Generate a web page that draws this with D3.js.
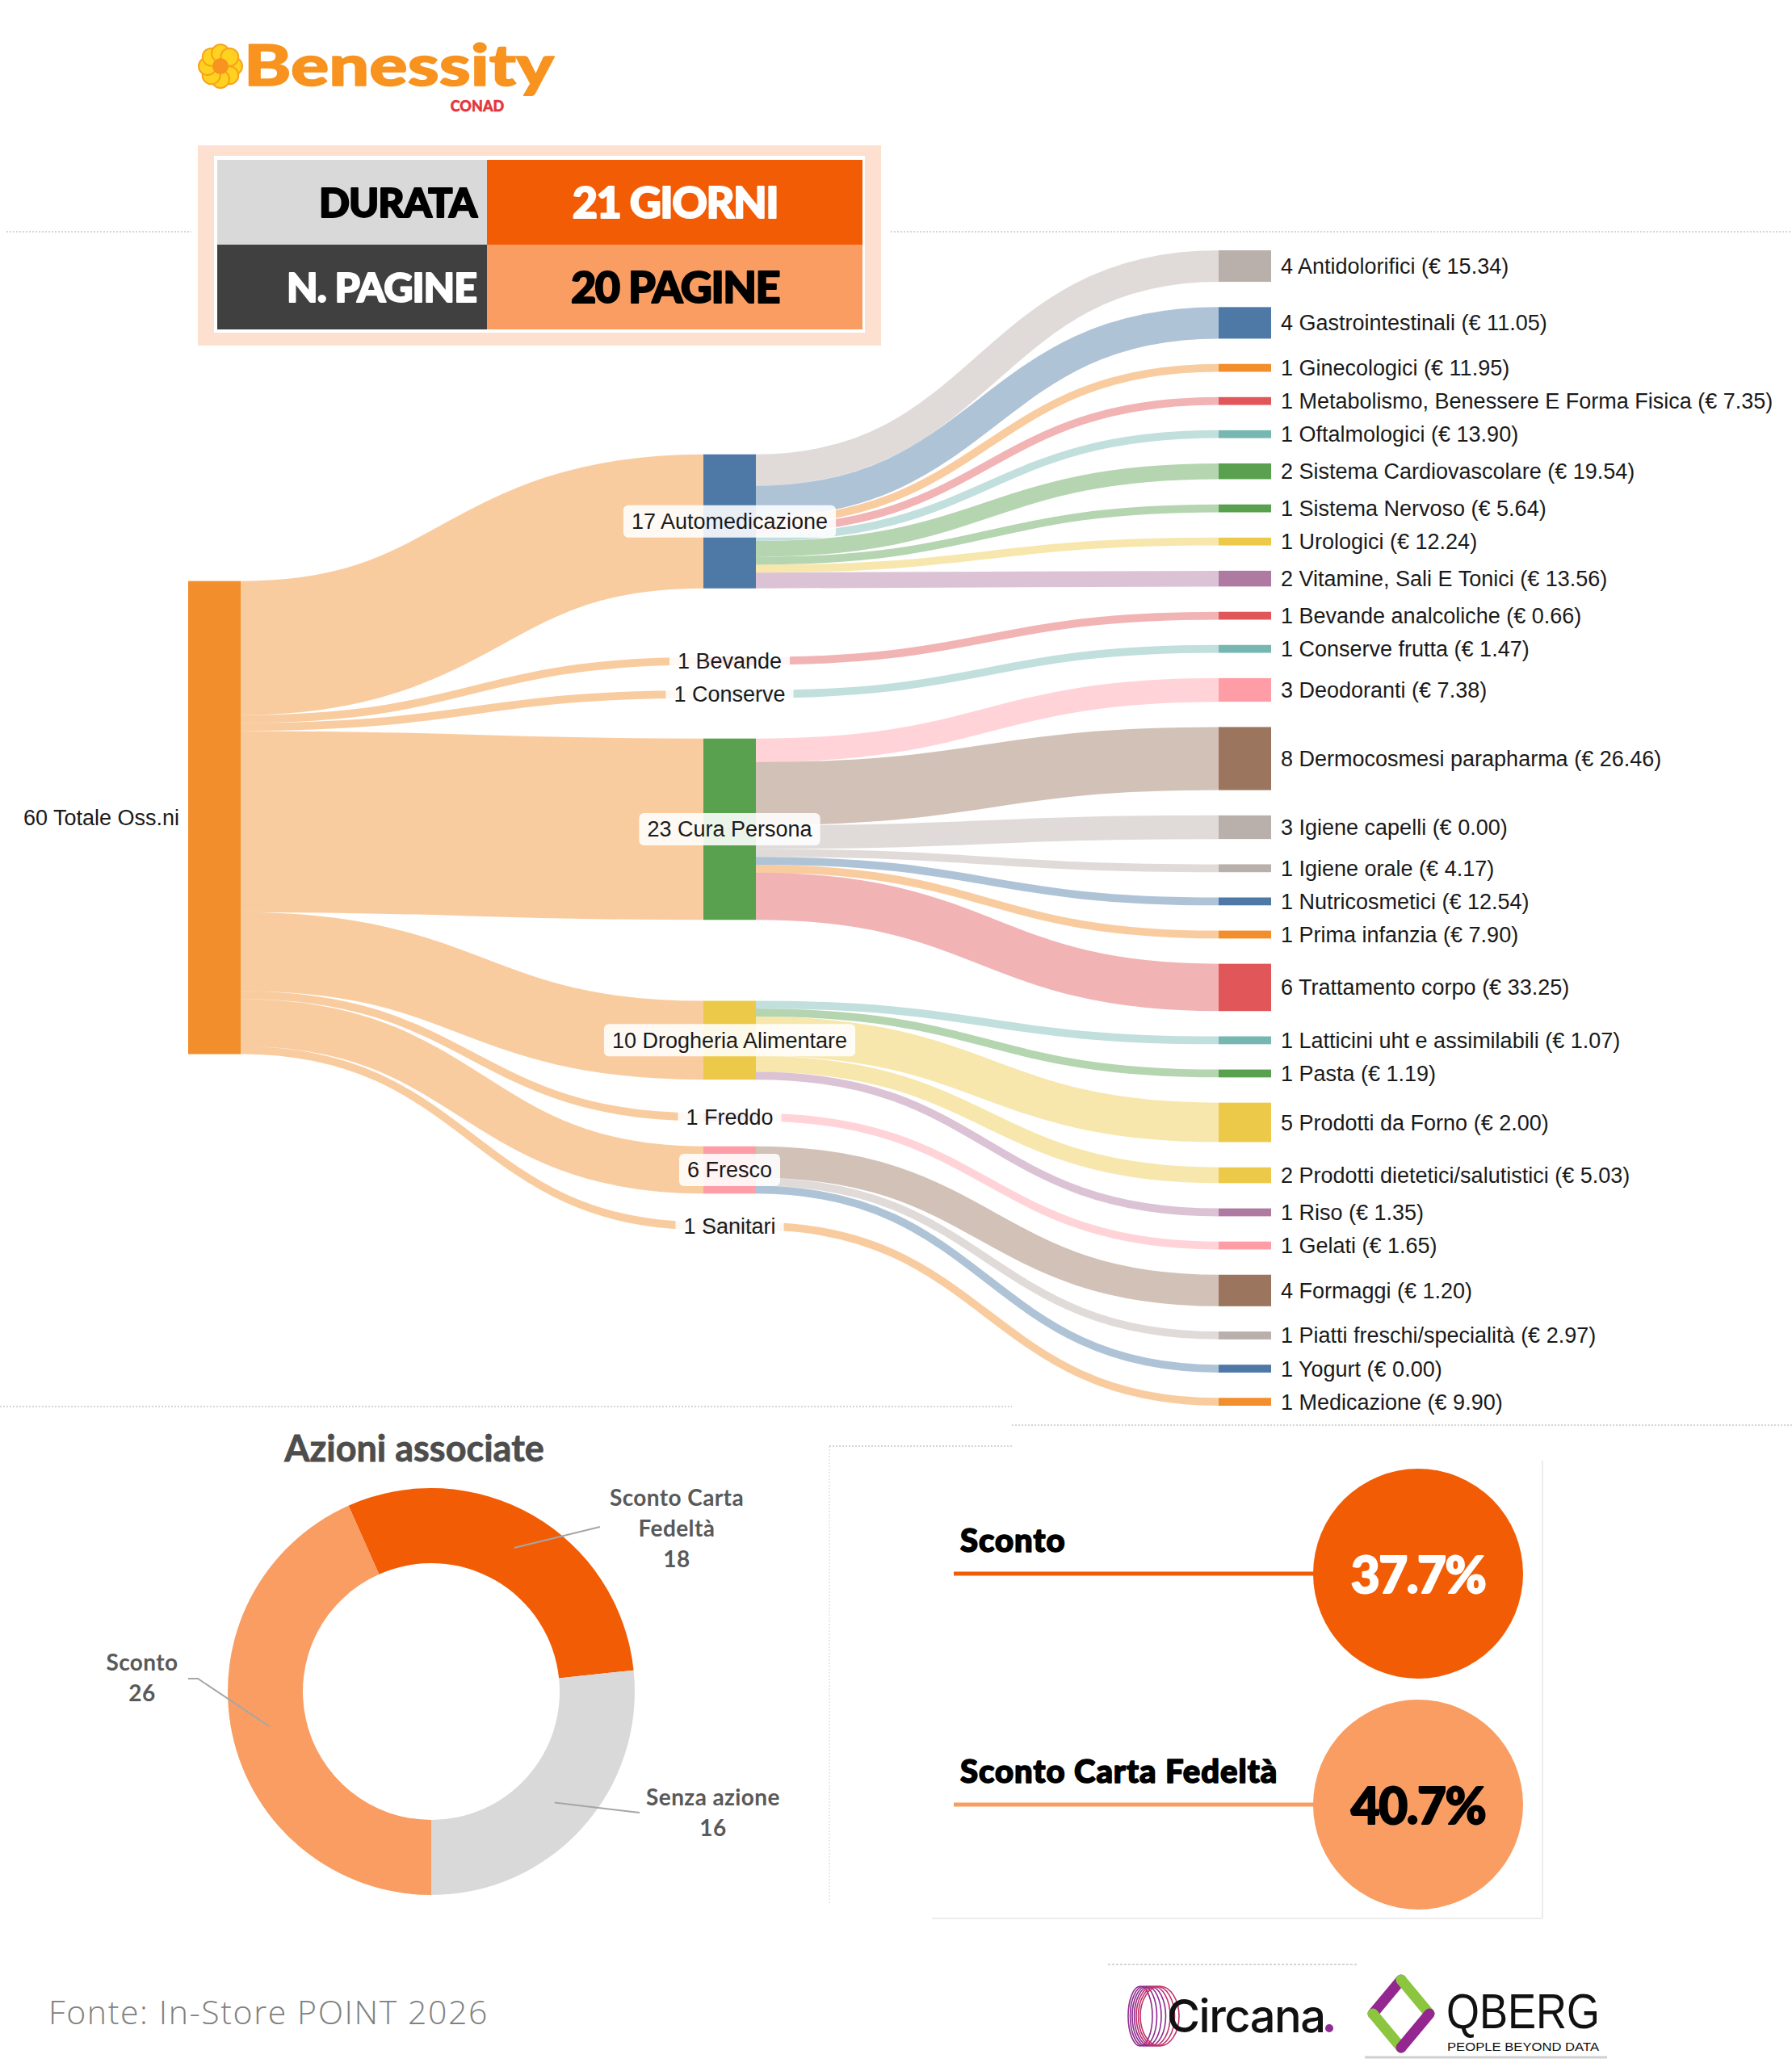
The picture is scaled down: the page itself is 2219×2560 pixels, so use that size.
<!DOCTYPE html>
<html>
<head>
<meta charset="utf-8">
<script src="https://cdn.jsdelivr.net/npm/d3@7"></script>
<style>
body { margin: 0; background: #fff; }
</style>
</head>
<body>
<div id="chart"></div>
<script>
// ---- data ----
var rootLabel = "Totale Oss.ni";
var categories = ["Automedicazione", "Bevande", "Conserve", "Cura Persona",
    "Drogheria Alimentare", "Freddo", "Fresco", "Sanitari"];
var subNames = ["Antidolorifici", "Gastrointestinali", "Ginecologici",
    "Metabolismo, Benessere E Forma Fisica", "Oftalmologici", "Sistema Cardiovascolare",
    "Sistema Nervoso", "Urologici", "Vitamine, Sali E Tonici", "Bevande analcoliche",
    "Conserve frutta", "Deodoranti", "Dermocosmesi parapharma", "Igiene capelli",
    "Igiene orale", "Nutricosmetici", "Prima infanzia", "Trattamento corpo",
    "Latticini uht e assimilabili", "Pasta", "Prodotti da Forno",
    "Prodotti dietetici/salutistici", "Riso", "Gelati", "Formaggi",
    "Piatti freschi/specialità", "Yogurt", "Medicazione"];
var subParent = [0, 0, 0, 0, 0, 0, 0, 0, 0, 1, 2, 3, 3, 3, 3, 3, 3, 3, 4, 4, 4, 4, 4, 5, 6, 6, 6, 7];
var subCounts = [4, 4, 1, 1, 1, 2, 1, 1, 2, 1, 1, 3, 8, 3, 1, 1, 1, 6, 1, 1, 5, 2, 1, 1, 4, 1, 1, 1];
var subPrices = [15.34, 11.05, 11.95, 7.35, 13.90, 19.54, 5.64, 12.24, 13.56, 0.66, 1.47, 7.38,
    26.46, 0.00, 4.17, 12.54, 7.90, 33.25, 1.07, 1.19, 2.00, 5.03, 1.35, 1.65, 1.20, 2.97, 0.00, 9.90];

var tableLabels = ["DURATA", "N. PAGINE"];
var tableValues = ["21 GIORNI", "20 PAGINE"];

var actionNames = ["Sconto Carta Fedeltà", "Senza azione", "Sconto"];
var actionCounts = [18, 16, 26];

var discountNames = ["Sconto", "Sconto Carta Fedeltà"];
var discountPct = [37.7, 40.7];

var sourceNote = "Fonte: In-Store POINT 2026";

// ---- setup ----
var W = 2219, H = 2560;
var sans = "'Liberation Sans', Arial, sans-serif";
var heavy = "Lato, 'Noto Sans', sans-serif";
var dark = "#f25c05", light = "#f99d63";

var svg = d3.select("#chart").append("svg")
    .attr("width", W)
    .attr("height", H);

function firstWord(s) { return s.split(/[ ,]/)[0]; }
var colorKeys = [categories[0], rootLabel].concat(categories.slice(1), subNames).map(firstWord);
var color = d3.scaleOrdinal()
    .domain(Array.from(new Set(colorKeys)))
    .range(d3.schemeTableau10);
function colorOf(name) { return color(firstWord(name)); }

// heavy text helper: fill plus same-colour stroke to thicken the glyphs
function bold(sel, fill, sw) {
    return sel.attr("font-family", heavy).attr("font-weight", 900)
        .attr("fill", fill).attr("stroke", fill).attr("stroke-width", sw)
        .attr("stroke-linejoin", "round");
}

// dotted separators
function hline(x1, x2, y, dash) {
    svg.append("line").attr("x1", x1).attr("x2", x2).attr("y1", y).attr("y2", y)
        .attr("stroke", "#c8c8c8").attr("stroke-width", 1.5)
        .attr("stroke-dasharray", dash || "2,2");
}
function vline(x, y1, y2) {
    svg.append("line").attr("x1", x).attr("x2", x).attr("y1", y1).attr("y2", y2)
        .attr("stroke", "#e2e2e2").attr("stroke-width", 1.5)
        .attr("stroke-dasharray", "2,2");
}
hline(8, 237, 287);
hline(1103, W, 287);
hline(0, 1253, 1742);
hline(1253, W, 1765);
hline(1027, 1253, 1791);
vline(1027, 1791, 2358);

// ---- header: logo ----
var logo = svg.append("g");
logo.selectAll("circle.petal")
    .data(d3.range(8))
    .enter().append("circle")
    .attr("class", "petal")
    .attr("cx", function(d) { return 273 + 16 * Math.cos(d * Math.PI / 4); })
    .attr("cy", function(d) { return 82 + 16 * Math.sin(d * Math.PI / 4); })
    .attr("r", 11)
    .attr("fill", "#ffd21f")
    .attr("stroke", "#f7a21e")
    .attr("stroke-width", 2);
logo.append("circle").attr("cx", 273).attr("cy", 82).attr("r", 10).attr("fill", "#f7931e");
bold(logo.append("text"), "#f7931e", 1.5)
    .attr("x", 302).attr("y", 106)
    .attr("font-size", 70)
    .attr("textLength", 384).attr("lengthAdjust", "spacingAndGlyphs")
    .text("Benessity");
bold(logo.append("text"), "#e4363c", 0.5)
    .attr("x", 591).attr("y", 138)
    .attr("text-anchor", "middle")
    .attr("font-size", 18)
    .text("CONAD");

// ---- header: table ----
svg.append("rect").attr("x", 245).attr("y", 180).attr("width", 846).attr("height", 248)
    .attr("fill", "#fde0cf");
svg.append("rect").attr("x", 265).attr("y", 193).attr("width", 806).attr("height", 219)
    .attr("fill", "#fff");
var rowY = d3.scaleBand().domain(tableLabels).range([198, 408]);
var cellFill = [["#d9d9d9", dark], ["#404040", light]];
var cellText = [["#000", "#fff"], ["#fff", "#000"]];
tableLabels.forEach(function(lab, i) {
    var y = rowY(lab), bh = rowY.bandwidth();
    svg.append("rect").attr("x", 269).attr("y", y).attr("width", 334).attr("height", bh)
        .attr("fill", cellFill[i][0]);
    svg.append("rect").attr("x", 603).attr("y", y).attr("width", 465).attr("height", bh)
        .attr("fill", cellFill[i][1]);
    bold(svg.append("text"), cellText[i][0], 2)
        .attr("x", 590).attr("y", y + bh / 2 + 18)
        .attr("text-anchor", "end")
        .attr("font-size", 50)
        .attr("letter-spacing", -1)
        .text(lab);
    bold(svg.append("text"), cellText[i][1], 2)
        .attr("x", 836).attr("y", y + bh / 2 + 19)
        .attr("text-anchor", "middle")
        .attr("font-size", 54)
        .attr("letter-spacing", -1.5)
        .text(tableValues[i]);
});

// ---- sankey layout ----
var total = d3.sum(subCounts);
var nodeW = 65;
var top0 = 310, bot0 = 1741, pad = 31.3;
var ky = d3.scaleLinear().domain([0, total])
    .range([0, bot0 - top0 - (subNames.length - 1) * pad]);
var colX = d3.scaleLinear().domain([0, 2]).range([233, 1509]);

// leaves packed from the top
var leaves = [];
var yy = top0;
subNames.forEach(function(name, i) {
    var hh = ky(subCounts[i]);
    leaves.push({ name: name, value: subCounts[i], price: subPrices[i], parent: subParent[i],
        y0: yy, y1: yy + hh, mid: yy + hh / 2 });
    yy += hh + pad;
});

var cats = categories.map(function(name, i) {
    var kids = leaves.filter(function(l) { return l.parent === i; });
    var v = d3.sum(kids, function(l) { return l.value; });
    return { name: name, value: v, kids: kids,
        leafMean: d3.sum(kids, function(l) { return l.value * l.mid; }) / v };
});

// relax middle column between root and leaves
var R = (top0 + bot0) / 2;
for (var it = 0; it < 40; it++) {
    var acc = R - ky(total) / 2;
    cats.forEach(function(c) {
        c.rootMid = acc + ky(c.value) / 2;
        acc += ky(c.value);
        c.mid = (c.rootMid + c.leafMean) / 2;
    });
    for (var k = 0; k < 60; k++) {
        for (var i = 1; i < cats.length; i++) {
            var a = cats[i - 1], b = cats[i];
            var gap = (b.mid - ky(b.value) / 2) - (a.mid + ky(a.value) / 2);
            if (gap < pad) {
                var s = (pad - gap) / 2;
                a.mid -= s;
                b.mid += s;
            }
        }
    }
    R = d3.sum(cats, function(c) { return c.value * c.mid; }) / total;
}

// links
var linkPath = d3.linkHorizontal();
var links = [];
cats.forEach(function(c) {
    links.push({ s: [colX(0) + nodeW, c.rootMid], t: [colX(1), c.mid],
        w: ky(c.value), color: colorOf(rootLabel) });
    var off = c.mid - ky(c.value) / 2;
    c.kids.forEach(function(l) {
        links.push({ s: [colX(1) + nodeW, off + ky(l.value) / 2], t: [colX(2), l.mid],
            w: ky(l.value), color: colorOf(l.name) });
        off += ky(l.value);
    });
});

var sankey = svg.append("g");
sankey.selectAll("path.link")
    .data(links)
    .enter().append("path")
    .attr("class", "link")
    .attr("d", function(d) { return linkPath({ source: d.s, target: d.t }); })
    .attr("fill", "none")
    .attr("stroke", function(d) { return d.color; })
    .attr("stroke-opacity", 0.45)
    .attr("stroke-width", function(d) { return d.w; });

// nodes
sankey.append("rect")
    .attr("x", colX(0)).attr("y", R - ky(total) / 2)
    .attr("width", nodeW).attr("height", ky(total))
    .attr("fill", colorOf(rootLabel));
sankey.selectAll("rect.cat")
    .data(cats)
    .enter().append("rect")
    .attr("class", "cat")
    .attr("x", colX(1))
    .attr("y", function(d) { return d.mid - ky(d.value) / 2; })
    .attr("width", nodeW)
    .attr("height", function(d) { return ky(d.value); })
    .attr("fill", function(d) { return colorOf(d.name); });
sankey.selectAll("rect.leaf")
    .data(leaves)
    .enter().append("rect")
    .attr("class", "leaf")
    .attr("x", colX(2))
    .attr("y", function(d) { return d.y0; })
    .attr("width", nodeW)
    .attr("height", function(d) { return d.y1 - d.y0; })
    .attr("fill", function(d) { return colorOf(d.name); });

// labels
var fmt = d3.format(".2f");
sankey.append("text")
    .attr("x", colX(0) - 11).attr("y", R)
    .attr("dy", "0.35em")
    .attr("text-anchor", "end")
    .attr("font-family", sans).attr("font-size", 27).attr("fill", "#1a1a1a")
    .text(total + " " + rootLabel);

sankey.selectAll("text.leaf")
    .data(leaves)
    .enter().append("text")
    .attr("class", "leaf")
    .attr("x", colX(2) + nodeW + 12)
    .attr("y", function(d) { return d.mid; })
    .attr("dy", "0.35em")
    .attr("font-family", sans).attr("font-size", 27).attr("fill", "#1a1a1a")
    .text(function(d) { return d.value + " " + d.name + " (€ " + fmt(d.price) + ")"; });

var catLab = sankey.selectAll("g.catlab")
    .data(cats)
    .enter().append("g")
    .attr("class", "catlab")
    .attr("transform", function(d) { return "translate(" + (colX(1) + nodeW / 2) + "," + d.mid + ")"; });
var catBox = catLab.append("rect")
    .attr("fill", "#fff").attr("fill-opacity", 0.88)
    .attr("rx", 6);
var catText = catLab.append("text")
    .attr("dy", "0.35em")
    .attr("text-anchor", "middle")
    .attr("font-family", sans).attr("font-size", 27).attr("fill", "#1a1a1a")
    .text(function(d) { return d.value + " " + d.name; });
catText.each(function(d) { d.tw = this.getComputedTextLength(); });
catBox.attr("x", function(d) { return -d.tw / 2 - 10; })
    .attr("y", -20)
    .attr("width", function(d) { return d.tw + 20; })
    .attr("height", 40);

// ---- donut: Azioni associate ----
svg.append("text")
    .attr("x", 513).attr("y", 1810)
    .attr("text-anchor", "middle")
    .attr("font-family", heavy).attr("font-weight", 700).attr("font-size", 45)
    .attr("fill", "#4d4d4d").attr("stroke", "#4d4d4d").attr("stroke-width", 0.8)
    .text("Azioni associate");

var cx = 534, cy = 2095, rOut = 252, rIn = 159;
var pie = d3.pie().sort(null).startAngle(-24 * Math.PI / 180)
    .endAngle(336 * Math.PI / 180);
var arc = d3.arc().innerRadius(rIn).outerRadius(rOut);
var donutColors = [dark, "#d9d9d9", light];
var arcs = pie(actionCounts);
var donut = svg.append("g").attr("transform", "translate(" + cx + "," + cy + ")");
donut.selectAll("path")
    .data(arcs)
    .enter().append("path")
    .attr("d", arc)
    .attr("fill", function(d, i) { return donutColors[i]; });

// leader lines and labels (anchor offsets relative to donut centre)
var leaderEnd = [[209, -204], [258, 150], [-289, -16]];
var leaderElbow = [null, null, [-301, -16]];
var labelLines = [["Sconto Carta", "Fedeltà"], ["Senza azione"], ["Sconto"]];
var labelAt = [[304, -230], [349, 141], [-358, -26]];
arcs.forEach(function(d, i) {
    var c = arc.centroid(d);
    var pts = [c, leaderEnd[i]];
    if (leaderElbow[i]) pts.push(leaderElbow[i]);
    donut.append("path")
        .attr("d", d3.line()(pts))
        .attr("fill", "none").attr("stroke", "#a6a6a6").attr("stroke-width", 2);
    var lines = labelLines[i].concat([String(actionCounts[i])]);
    donut.append("text")
        .attr("text-anchor", "middle")
        .attr("font-family", heavy).attr("font-weight", 700).attr("font-size", 28)
        .attr("letter-spacing", 0.4)
        .attr("fill", "#595959")
        .selectAll("tspan")
        .data(lines)
        .enter().append("tspan")
        .attr("x", labelAt[i][0])
        .attr("y", function(t, j) { return labelAt[i][1] + j * 38; })
        .text(function(t) { return t; });
});

// ---- discount panel ----
svg.append("line").attr("x1", 1910).attr("x2", 1910).attr("y1", 1809).attr("y2", 2376)
    .attr("stroke", "#ececec").attr("stroke-width", 2);
svg.append("line").attr("x1", 1154).attr("x2", 1910).attr("y1", 2376).attr("y2", 2376)
    .attr("stroke", "#ececec").attr("stroke-width", 2);

var discY = d3.scalePoint().domain(discountNames).range([1949, 2235]);
var discFill = [dark, light];
var discText = ["#fff", "#000"];
discountNames.forEach(function(name, i) {
    var y = discY(name);
    svg.append("line")
        .attr("x1", 1181).attr("x2", 1640).attr("y1", y).attr("y2", y)
        .attr("stroke", discFill[i]).attr("stroke-width", 5);
    bold(svg.append("text"), "#000", 1.6)
        .attr("x", 1189).attr("y", y - 27)
        .attr("font-size", 40)
        .attr("letter-spacing", 1)
        .text(name);
    svg.append("circle")
        .attr("cx", 1756).attr("cy", y).attr("r", 130)
        .attr("fill", discFill[i]);
    bold(svg.append("text"), discText[i], 2)
        .attr("x", 1756).attr("y", y + 24)
        .attr("text-anchor", "middle")
        .attr("font-size", 62)
        .attr("letter-spacing", -1.5)
        .text(d3.format(".1f")(discountPct[i]) + "%");
});

// ---- footer ----
svg.append("text")
    .attr("x", 60).attr("y", 2507)
    .attr("font-family", "'Open Sans', sans-serif").attr("font-weight", 300).attr("font-size", 41)
    .attr("letter-spacing", 1.6)
    .attr("fill", "#808080")
    .text(sourceNote);

hline(1372, 1682, 2433, "3,2");
svg.append("line").attr("x1", 1690).attr("x2", 1990).attr("y1", 2548).attr("y2", 2548)
    .attr("stroke", "#d0d0d0").attr("stroke-width", 3);

// Circana logo
var circ = svg.append("g");
circ.selectAll("ellipse")
    .data(d3.range(7))
    .enter().append("ellipse")
    .attr("cx", function(d) { return 1412 + d * 4; })
    .attr("cy", 2497)
    .attr("rx", function(d) { return 15 + d * 1.5; })
    .attr("ry", 37)
    .attr("fill", "none")
    .attr("stroke", function(d) { return d < 4 ? "#8e2c8f" : "#c0306a"; })
    .attr("stroke-width", 1.6);
circ.append("text")
    .attr("x", 1445).attr("y", 2517)
    .attr("font-family", "Inter, 'Noto Sans', sans-serif").attr("font-weight", 500)
    .attr("font-size", 56).attr("letter-spacing", -1.5)
    .attr("fill", "#111")
    .text("Circana");
circ.append("circle").attr("cx", 1646).attr("cy", 2512).attr("r", 5).attr("fill", "#8e2c8f");

// Qberg logo
var qb = svg.append("g");
var dTop = [1735, 2452], dLeft = [1700, 2494], dRight = [1770, 2494], dBot = [1735, 2536];
[[dTop, dLeft, "#93278f"], [dTop, dRight, "#8cc63f"], [dLeft, dBot, "#8cc63f"], [dRight, dBot, "#93278f"]]
    .forEach(function(seg) {
        qb.append("line")
            .attr("x1", seg[0][0]).attr("y1", seg[0][1])
            .attr("x2", seg[1][0]).attr("y2", seg[1][1])
            .attr("stroke", seg[2]).attr("stroke-width", 13).attr("stroke-linecap", "round");
    });
qb.append("text")
    .attr("x", 1791).attr("y", 2512)
    .attr("font-family", sans).attr("font-size", 62)
    .attr("textLength", 190).attr("lengthAdjust", "spacingAndGlyphs")
    .attr("fill", "#111")
    .text("QBERG");
qb.append("text")
    .attr("x", 1792).attr("y", 2540)
    .attr("font-family", sans).attr("font-size", 15)
    .attr("textLength", 188).attr("lengthAdjust", "spacingAndGlyphs")
    .attr("fill", "#111")
    .text("PEOPLE BEYOND DATA");
</script>
</body>
</html>
